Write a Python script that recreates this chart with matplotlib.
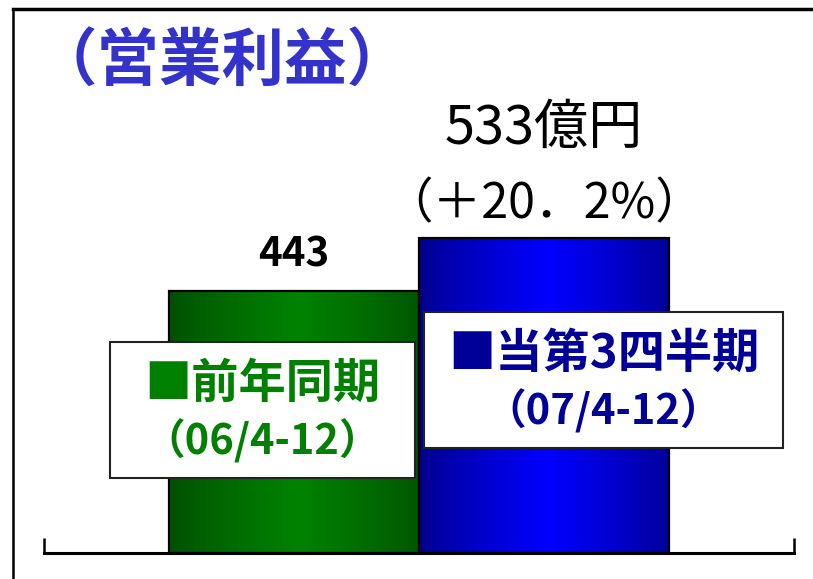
"""
Operating profit comparison: same period last year vs. current Q3 cumulative.
"""
import matplotlib
matplotlib.use("Agg")
import matplotlib.pyplot as plt
import numpy as np
from matplotlib.colors import to_rgb
from matplotlib.lines import Line2D
from matplotlib.patches import Rectangle

plt.rcParams["font.family"] = ["Noto Sans CJK JP", "DejaVu Sans"]

# data
periods = ["前年同期", "当第3四半期"]
period_ranges = ["（06/4-12）", "（07/4-12）"]
profit = [443, 533]  # 億円
growth_label = "（＋20．2%）"
title = "（営業利益）"

# (dark edge colour, bright centre colour) for the cylinder shading
_BAR_SHADES = [("#004f00", "#008200"), ("#00008a", "#0000ff")]
_TEXT_COLORS = ["#008000", "#000099"]

W, H = 813, 579
fig = plt.figure(figsize=(W / 100, H / 100), dpi=100)

# axes spans the bottom axis line (x 44..794 px, baseline y=553 px)
ax = fig.add_axes([44 / W, (H - 553) / H, 750 / W, 544 / H])
x = np.arange(len(profit))
width = 1.0


def shade(dark, light, n=200):
    t = np.linspace(0, 1, n)
    w = np.clip(1 - np.abs(t - 0.52) / 0.52, 0, 1) ** 0.8
    d, l = np.array(to_rgb(dark)), np.array(to_rgb(light))
    return (d[None, :] + (l - d)[None, :] * w[:, None])[None, :, :]


for xi, val, (dark, light) in zip(x, profit, _BAR_SHADES):
    x0 = xi - width / 2
    ax.imshow(shade(dark, light), extent=[x0, x0 + width, 0, val],
              aspect="auto", zorder=2, interpolation="bilinear")
    ax.add_patch(Rectangle((x0, 0), width, val, fill=False,
                           edgecolor="black", lw=1.6, zorder=3))

ax.set_xlim(-1.0, 2.0)
ax.set_ylim(0, 921)
for side in ["top", "left", "right"]:
    ax.spines[side].set_visible(False)
ax.spines["bottom"].set_linewidth(2.2)
ax.spines["bottom"].set_zorder(4)
ax.set_yticks([])
ax.set_xticks([-1.0, 2.0])
ax.set_xticklabels([])
ax.tick_params(axis="x", direction="in", length=11, width=1.8, color="black")

# value labels
ax.text(x[0], profit[0] + 62, f"{profit[0]}", ha="center", va="center",
        fontsize=29, fontweight="bold", color="black")
ax.text(x[1], profit[1] + 186, f"{profit[1]}億円", ha="center", va="center",
        fontsize=39, color="black")
ax.text(x[1], profit[1] + 57, growth_label, ha="center", va="center",
        fontsize=35, color="black")

# title
fig.text(222 / W, 1 - 62 / H, title, ha="center", va="center",
         fontsize=45, fontweight="bold", color="#3333cc")

# legend-style boxes over the bars
boxes = [(110, 342, 415, 478), (424, 312, 783, 448)]
for (l, t, r, b), name, rng, col in zip(boxes, periods, period_ranges, _TEXT_COLORS):
    fig.add_artist(Rectangle((l / W, 1 - b / H), (r - l) / W, (b - t) / H,
                             transform=fig.transFigure, facecolor="white",
                             edgecolor="#222222", lw=1.5, zorder=5))
    cx = (l + r) / 2 / W
    fig.text(cx, 1 - (t + 42) / H, "■" + name, ha="center", va="center",
             fontsize=34, fontweight="bold", color=col, zorder=6)
    fig.text(cx, 1 - (t + 99) / H, rng, ha="center", va="center",
             fontsize=30, fontweight="bold", color=col, zorder=6)

# outer frame (top and left edges)
fig.add_artist(Line2D([13 / W, 1], [1 - 9 / H, 1 - 9 / H],
                      transform=fig.transFigure, color="black", lw=2.5))
fig.add_artist(Line2D([13 / W, 13 / W], [0, 1 - 9 / H],
                      transform=fig.transFigure, color="black", lw=1.8))

fig.savefig("out.png", dpi=100)
